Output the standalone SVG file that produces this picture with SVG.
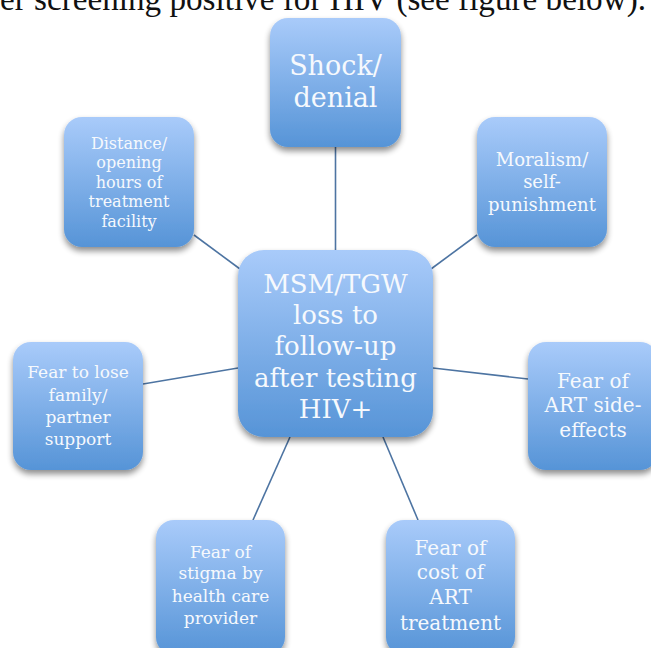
<svg xmlns="http://www.w3.org/2000/svg" width="651" height="648" viewBox="0 0 651 648">
<defs>
<linearGradient id="g" x1="0" y1="0" x2="0" y2="1">
<stop offset="0" stop-color="#a9cbfa"/>
<stop offset="1" stop-color="#5694d7"/>
</linearGradient>
<filter id="sh" x="-20%" y="-20%" width="140%" height="140%">
<feGaussianBlur in="SourceAlpha" stdDeviation="3"/>
<feOffset dx="0" dy="4" result="b"/>
<feComponentTransfer><feFuncA type="linear" slope="0.45"/></feComponentTransfer>
<feMerge><feMergeNode/><feMergeNode in="SourceGraphic"/></feMerge>
</filter>
</defs>
<style>
.box{fill:url(#g);filter:url(#sh)}
.t{font-family:"DejaVu Serif","Liberation Serif",serif;fill:#f6f9fd;text-anchor:middle}
.c{stroke:#4d74a2;stroke-width:1.6;fill:none}
.top{font-family:"Liberation Serif","Times New Roman",serif;fill:#111}
</style>
<rect width="651" height="648" fill="#fff"/>
<text class="top" x="0" y="10" font-size="33" textLength="646" lengthAdjust="spacingAndGlyphs">er screening positive for HIV (see figure below).</text>
<g id="connectors">
<line class="c" x1="335.5" y1="147" x2="335.5" y2="250"/>
<line class="c" x1="194" y1="235" x2="240" y2="269"/>
<line class="c" x1="477" y1="235" x2="431" y2="269"/>
<line class="c" x1="528" y1="379" x2="433" y2="368"/>
<line class="c" x1="143" y1="384" x2="238" y2="368"/>
<line class="c" x1="253" y1="520" x2="290" y2="437"/>
<line class="c" x1="418" y1="520" x2="383" y2="437"/>
</g>
<g id="center">
<rect class="box" x="238" y="250" width="195" height="187" rx="26"/>
<text class="t" font-size="26"><tspan x="335.5" y="293">MSM/TGW</tspan><tspan x="335.5" y="324">loss to</tspan><tspan x="335.5" y="355">follow-up</tspan><tspan x="335.5" y="387">after testing</tspan><tspan x="335.5" y="418">HIV+</tspan></text>
</g>
<g id="shock">
<rect class="box" x="270" y="18" width="131" height="129" rx="18"/>
<text class="t" font-size="27"><tspan x="335.5" y="75">Shock/</tspan><tspan x="335.5" y="107">denial</tspan></text>
</g>
<g id="distance">
<rect class="box" x="64" y="117" width="130" height="130" rx="18"/>
<text class="t" font-size="16"><tspan x="129" y="149">Distance/</tspan><tspan x="129" y="168">opening</tspan><tspan x="129" y="188">hours of</tspan><tspan x="129" y="207">treatment</tspan><tspan x="129" y="227">facility</tspan></text>
</g>
<g id="moralism">
<rect class="box" x="477" y="117" width="130" height="130" rx="18"/>
<text class="t" font-size="18"><tspan x="542" y="166">Moralism/</tspan><tspan x="542" y="188">self-</tspan><tspan x="542" y="211">punishment</tspan></text>
</g>
<g id="artside">
<rect class="box" x="528" y="342" width="130" height="128" rx="18"/>
<text class="t" font-size="20"><tspan x="593" y="388">Fear of</tspan><tspan x="593" y="412">ART side-</tspan><tspan x="593" y="437">effects</tspan></text>
</g>
<g id="family">
<rect class="box" x="13" y="342" width="130" height="128" rx="18"/>
<text class="t" font-size="17"><tspan x="78" y="378">Fear to lose</tspan><tspan x="78" y="401">family/</tspan><tspan x="78" y="423">partner</tspan><tspan x="78" y="445">support</tspan></text>
</g>
<g id="stigma">
<rect class="box" x="156" y="520" width="129" height="135" rx="18"/>
<text class="t" font-size="17"><tspan x="220.5" y="558">Fear of</tspan><tspan x="220.5" y="579">stigma by</tspan><tspan x="220.5" y="602">health care</tspan><tspan x="220.5" y="624">provider</tspan></text>
</g>
<g id="cost">
<rect class="box" x="386" y="520" width="129" height="135" rx="18"/>
<text class="t" font-size="20"><tspan x="450.5" y="555">Fear of</tspan><tspan x="450.5" y="579">cost of</tspan><tspan x="450.5" y="604">ART</tspan><tspan x="450.5" y="630">treatment</tspan></text>
</g>
</svg>
